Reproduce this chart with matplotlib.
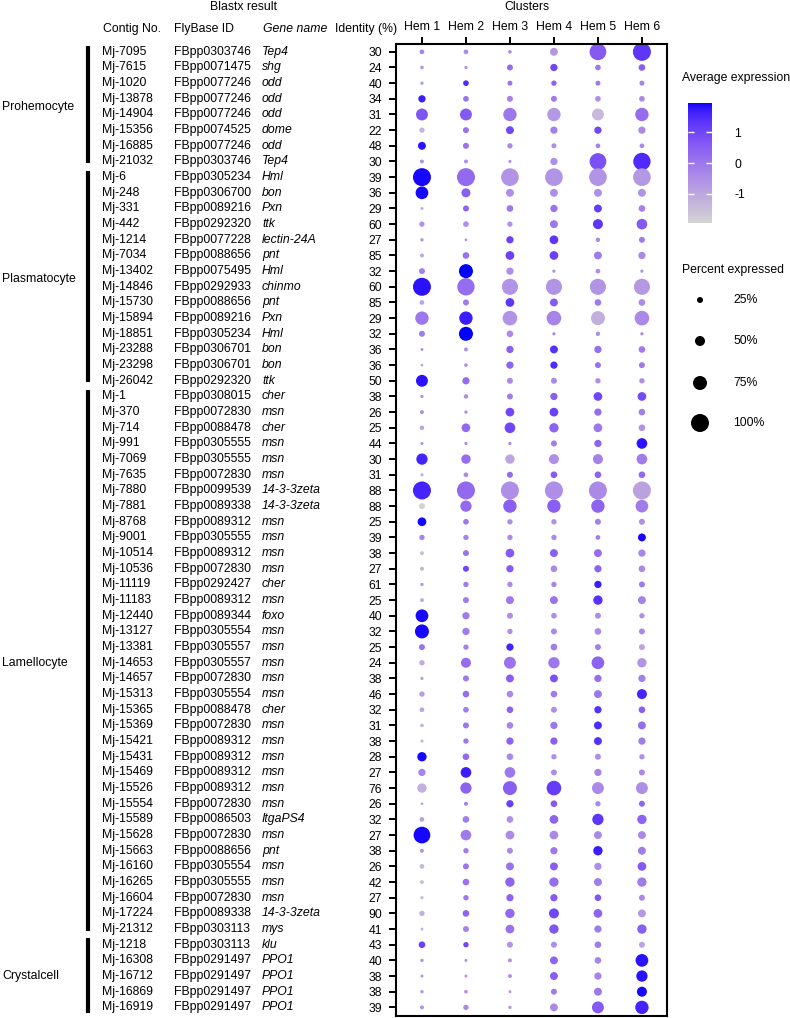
import numpy as np
import matplotlib
matplotlib.use("Agg")
import matplotlib.pyplot as plt
from matplotlib.colors import ListedColormap, Normalize
from matplotlib.cm import ScalarMappable
from matplotlib.transforms import blended_transform_factory

plt.rcParams['font.family'] = ['Liberation Sans', 'DejaVu Sans']
plt.rcParams['axes.unicode_minus'] = False

contigs = ["Mj-7095", "Mj-7615", "Mj-1020", "Mj-13878", "Mj-14904", "Mj-15356", "Mj-16885", "Mj-21032",
           "Mj-6", "Mj-248", "Mj-331", "Mj-442", "Mj-1214", "Mj-7034", "Mj-13402", "Mj-14846",
           "Mj-15730", "Mj-15894", "Mj-18851", "Mj-23288", "Mj-23298", "Mj-26042",
           "Mj-1", "Mj-370", "Mj-714", "Mj-991", "Mj-7069", "Mj-7635", "Mj-7880", "Mj-7881",
           "Mj-8768", "Mj-9001", "Mj-10514", "Mj-10536", "Mj-11119", "Mj-11183", "Mj-12440",
           "Mj-13127", "Mj-13381", "Mj-14653", "Mj-14657", "Mj-15313", "Mj-15365", "Mj-15369",
           "Mj-15421", "Mj-15431", "Mj-15469", "Mj-15526", "Mj-15554", "Mj-15589", "Mj-15628",
           "Mj-15663", "Mj-16160", "Mj-16265", "Mj-16604", "Mj-17224", "Mj-21312",
           "Mj-1218", "Mj-16308", "Mj-16712", "Mj-16869", "Mj-16919"]
flybase = ["FBpp0303746", "FBpp0071475", "FBpp0077246", "FBpp0077246", "FBpp0077246", "FBpp0074525",
           "FBpp0077246", "FBpp0303746",
           "FBpp0305234", "FBpp0306700", "FBpp0089216", "FBpp0292320", "FBpp0077228", "FBpp0088656",
           "FBpp0075495", "FBpp0292933", "FBpp0088656", "FBpp0089216", "FBpp0305234", "FBpp0306701",
           "FBpp0306701", "FBpp0292320",
           "FBpp0308015", "FBpp0072830", "FBpp0088478", "FBpp0305555", "FBpp0305555", "FBpp0072830",
           "FBpp0099539", "FBpp0089338", "FBpp0089312", "FBpp0305555", "FBpp0089312", "FBpp0072830",
           "FBpp0292427", "FBpp0089312", "FBpp0089344", "FBpp0305554", "FBpp0305557", "FBpp0305557",
           "FBpp0072830", "FBpp0305554", "FBpp0088478", "FBpp0072830", "FBpp0089312", "FBpp0089312",
           "FBpp0089312", "FBpp0089312", "FBpp0072830", "FBpp0086503", "FBpp0072830", "FBpp0088656",
           "FBpp0305554", "FBpp0305555", "FBpp0072830", "FBpp0089338", "FBpp0303113",
           "FBpp0303113", "FBpp0291497", "FBpp0291497", "FBpp0291497", "FBpp0291497"]
genes = ["Tep4", "shg", "odd", "odd", "odd", "dome", "odd", "Tep4",
         "Hml", "bon", "Pxn", "ttk", "lectin-24A", "pnt", "Hml", "chinmo", "pnt", "Pxn", "Hml",
         "bon", "bon", "ttk",
         "cher", "msn", "cher", "msn", "msn", "msn", "14-3-3zeta", "14-3-3zeta", "msn", "msn",
         "msn", "msn", "cher", "msn", "foxo", "msn", "msn", "msn", "msn", "msn", "cher", "msn",
         "msn", "msn", "msn", "msn", "msn", "ItgaPS4", "msn", "pnt", "msn", "msn", "msn",
         "14-3-3zeta", "mys",
         "klu", "PPO1", "PPO1", "PPO1", "PPO1"]
identity = [30, 24, 40, 34, 31, 22, 48, 30,
            39, 36, 29, 60, 27, 85, 32, 60, 85, 29, 32, 36, 36, 50,
            38, 26, 25, 44, 30, 31, 88, 88, 25, 39, 38, 27, 61, 25, 40, 32, 25, 24, 38, 46,
            32, 31, 38, 28, 27, 76, 26, 32, 27, 38, 26, 42, 27, 90, 41,
            43, 40, 38, 38, 39]

groups = ["Prohemocyte", "Plasmatocyte", "Lamellocyte", "Crystalcell"]
group_rows = [(0, 7), (8, 21), (22, 56), (57, 61)]

clusters = ["Hem 1", "Hem 2", "Hem 3", "Hem 4", "Hem 5", "Hem 6"]

# percent expressed per contig (Hem 1..6)
pct = [[17, 17, 10, 37, 92, 100], [10, 8, 25, 33, 23, 29], [8, 23, 19, 21, 19, 19],
       [33, 23, 25, 25, 23, 23], [62, 62, 71, 71, 62, 71], [21, 25, 37, 33, 33, 33],
       [37, 25, 21, 19, 17, 17], [12, 12, 8, 33, 92, 96],
       [100, 100, 98, 98, 98, 98], [67, 44, 37, 37, 37, 37], [6, 25, 29, 33, 37, 29],
       [21, 23, 21, 37, 50, 54], [8, 4, 33, 42, 15, 25], [12, 29, 42, 42, 37, 33],
       [25, 75, 33, 8, 17, 8], [100, 96, 88, 88, 88, 88], [17, 25, 42, 37, 29, 29],
       [71, 71, 79, 79, 75, 79], [25, 75, 29, 8, 15, 8], [6, 12, 33, 37, 33, 29],
       [4, 10, 33, 33, 25, 25], [62, 33, 25, 25, 21, 21],
       [8, 15, 25, 33, 42, 42], [12, 8, 42, 42, 33, 29], [15, 42, 54, 46, 42, 29],
       [6, 8, 8, 25, 33, 54], [58, 46, 46, 50, 50, 54], [8, 17, 25, 29, 29, 29],
       [100, 100, 100, 100, 100, 100], [25, 58, 71, 71, 71, 67], [42, 23, 21, 21, 25, 25],
       [21, 21, 21, 21, 17, 37], [12, 25, 42, 37, 37, 33], [12, 25, 33, 29, 33, 29],
       [8, 21, 21, 21, 33, 25], [12, 25, 37, 37, 46, 37], [67, 33, 25, 23, 25, 21],
       [75, 33, 21, 25, 29, 25], [25, 21, 33, 29, 25, 25], [21, 50, 62, 58, 67, 46],
       [8, 25, 37, 37, 33, 33], [21, 29, 29, 29, 37, 50], [17, 23, 29, 25, 33, 29],
       [10, 25, 29, 33, 37, 37], [8, 21, 33, 33, 37, 33], [46, 29, 29, 21, 25, 21],
       [33, 54, 54, 25, 33, 25], [46, 58, 75, 79, 62, 62], [4, 12, 33, 29, 21, 25],
       [17, 29, 29, 42, 58, 46], [92, 54, 42, 42, 37, 37], [12, 21, 25, 33, 46, 37],
       [17, 25, 37, 37, 33, 42], [12, 29, 46, 46, 37, 46], [8, 21, 33, 33, 29, 25],
       [21, 29, 46, 50, 42, 37], [6, 25, 42, 46, 33, 46],
       [29, 21, 25, 25, 29, 25], [8, 6, 12, 37, 29, 67], [6, 6, 12, 37, 33, 58],
       [8, 10, 6, 25, 37, 50], [12, 21, 8, 37, 62, 71]]

# scaled average expression per contig (Hem 1..6)
avg = [[-0.3, -0.4, -0.5, -0.7, 0.6, 1.3], [-0.6, -0.6, 0.2, 1.0, -0.1, 0.5],
       [-0.7, 1.5, 0.0, 0.4, -0.1, -0.3], [1.7, 0.1, -0.2, -0.1, -0.5, -0.4],
       [0.7, 0.6, 0.0, -0.7, -1.4, 0.2], [-1.3, 0.1, 1.0, -0.2, 1.0, -0.4],
       [1.8, 0.1, -0.4, -0.5, -0.2, -0.4], [-0.5, -0.5, -0.6, -0.5, 0.8, 1.5],
       [1.9, 0.3, -0.6, -0.6, -0.6, -0.7], [1.9, 0.5, -0.5, -0.5, -0.5, -0.6],
       [-1.0, 0.4, 0.0, 0.1, 1.2, -0.2], [-0.6, -0.5, -0.6, 0.0, 1.3, 0.6],
       [-0.5, -0.5, 1.1, 1.3, -0.4, -0.1], [-1.0, 0.1, 1.1, 1.1, -0.1, -0.4],
       [-0.2, 2.0, -0.5, -0.6, -0.5, -0.6], [1.8, 0.2, -0.6, -0.6, -0.6, -0.7],
       [-1.0, -0.1, 1.3, 0.6, -0.1, -0.4], [0.0, 1.7, -0.6, -0.3, -1.2, -0.4],
       [-0.1, 2.0, -0.4, -0.5, -0.5, -0.4], [-0.6, -0.5, 0.5, 1.4, 0.2, -0.1],
       [-0.9, -0.5, 0.4, 1.5, 0.1, -0.1], [1.8, 0.2, -0.4, -0.4, -0.5, -0.5],
       [-0.6, -0.5, -0.1, 0.5, 1.0, 0.9], [-0.5, -0.5, 1.0, 1.1, 0.2, -0.2],
       [-0.9, 0.3, 1.0, 0.4, 0.0, -0.6], [-0.5, -0.5, -0.5, -0.1, 0.4, 1.8],
       [1.6, 0.2, -1.0, -0.5, -0.2, -0.1], [-1.3, -0.4, 0.3, 0.6, 0.4, 0.3],
       [1.6, 0.3, -0.5, -0.5, -0.4, -0.9], [-1.9, 0.3, 0.5, 0.5, 0.4, -0.1],
       [1.9, 0.0, -0.5, -0.5, -0.2, -0.5], [-0.3, -0.3, -0.4, -0.4, -0.1, 1.9],
       [-1.5, 0.1, 0.6, 0.5, 0.2, -0.3], [-1.2, 1.0, 0.6, -0.4, 0.4, -0.4],
       [-0.6, -0.1, -0.4, -0.3, 1.7, -0.1], [-1.1, -0.1, 0.0, 0.1, 1.4, -0.2],
       [1.9, -0.1, -0.5, -0.5, -0.5, -0.5], [1.9, -0.1, -0.5, -0.4, -0.4, -0.4],
       [0.1, -0.2, 1.6, -0.1, -0.2, -1.0], [-1.1, 0.2, 0.1, 0.0, 0.4, -0.6],
       [-0.9, -0.1, 0.5, 0.8, 0.2, -0.2], [-0.8, 0.2, -0.4, -0.1, 0.0, 1.6],
       [-1.0, -0.1, 0.4, -0.5, 1.4, 0.5], [-1.2, 0.0, -0.3, 0.0, 1.5, 0.2],
       [-1.4, 0.0, 0.4, 0.5, 1.4, -0.1], [1.9, 0.3, -0.4, -0.5, -0.5, -0.5],
       [-0.3, 1.7, 0.0, -0.5, -0.3, -0.4], [-1.2, 0.4, 0.5, 1.2, -0.4, -0.5],
       [-0.8, -0.1, 1.1, 0.6, -0.4, 0.4], [-1.0, -0.1, -0.5, 0.4, 1.3, 0.4],
       [1.9, -0.1, -0.4, -0.4, -0.4, -0.4], [-0.6, -0.1, -0.4, 0.0, 1.7, -0.1],
       [-1.4, 0.0, 0.1, 0.5, -0.5, 0.6], [-1.5, 0.1, 0.4, 0.2, -0.1, -0.1],
       [-1.4, 0.0, 0.4, 0.6, 0.7, -0.4], [-1.2, 0.4, 0.3, 1.0, 0.4, -0.7],
       [-1.3, -0.3, 0.1, 0.7, -0.1, 0.5],
       [1.1, 1.0, -0.6, -0.5, -0.1, -0.9], [-0.5, -0.5, -0.5, 0.4, -0.3, 1.8],
       [-0.5, -0.5, -0.5, 0.5, -0.3, 1.8], [-0.5, -0.5, -0.6, -0.1, 0.0, 1.9],
       [-0.5, -0.4, -0.6, -0.4, 0.6, 1.6]]

cbar_ticks = [-1, 0, 1]
legend_pct = [25, 50, 75, 100]


# lightgrey -> blue gradient mixed in Lab space (like ggplot)
def to_lab(c):
    c = np.asarray(c, float)
    lin = np.where(c <= 0.04045, c / 12.92, ((c + 0.055) / 1.055) ** 2.4)
    M = np.array([[0.4124, 0.3576, 0.1805], [0.2126, 0.7152, 0.0722], [0.0193, 0.1192, 0.9505]])
    xyz = M @ lin / np.array([0.95047, 1.0, 1.08883])
    f = np.where(xyz > 0.008856, np.cbrt(xyz), 7.787 * xyz + 16 / 116)
    return np.array([116 * f[1] - 16, 500 * (f[0] - f[1]), 200 * (f[1] - f[2])])


def from_lab(lab):
    L, a, b = lab
    fy = (L + 16) / 116
    f = np.array([fy + a / 500, fy, fy - b / 200])
    xyz = np.where(f ** 3 > 0.008856, f ** 3, (f - 16 / 116) / 7.787) * np.array([0.95047, 1.0, 1.08883])
    Mi = np.array([[3.2406, -1.5372, -0.4986], [-0.9689, 1.8758, 0.0415], [0.0557, -0.2040, 1.0570]])
    lin = np.clip(Mi @ xyz, 0, 1)
    rgb = np.where(lin <= 0.0031308, 12.92 * lin, 1.055 * lin ** (1 / 2.4) - 0.055)
    return np.clip(rgb, 0, 1)


lo, hi = to_lab([211 / 255] * 3), to_lab([0, 0, 1])
cmap = ListedColormap([from_lab(lo + (hi - lo) * t) for t in np.linspace(0, 1, 256)])
norm = Normalize(-1.95, 1.95)

W, H = 790, 1018
fig = plt.figure(figsize=(W / 100, H / 100), dpi=100)


def rect(x0, y0, x1, y1):
    return [x0 / W, 1 - y1 / H, (x1 - x0) / W, (y1 - y0) / H]


lay = fig.add_axes([0, 0, 1, 1])
lay.set_xlim(0, W)
lay.set_ylim(H, 0)
lay.axis('off')
lay.set_facecolor('none')

ax = fig.add_axes(rect(396, 44, 667, 1016))
n = len(contigs)
rows = np.arange(n)
xx, yy = np.meshgrid(np.arange(1, 7), rows)
P = np.array(pct, float)
A = np.array(avg, float)
diam = (2 + 0.16 * P) * 0.72
ax.scatter(xx.ravel(), yy.ravel(), s=diam.ravel() ** 2, c=A.ravel(), cmap=cmap, norm=norm,
           linewidths=0)
ax.set_xlim(0.41, 6.57)
ax.set_ylim(61.55, -0.5)
for sp in ax.spines.values():
    sp.set_linewidth(1.5)
ax.set_yticks(rows)
ax.set_yticklabels([str(v) for v in identity], fontsize=8.8)
ax.set_xticks(np.arange(1, 7))
ax.set_xticklabels(clusters, fontsize=8.8)
ax.xaxis.tick_top()
ax.tick_params(axis='y', length=5, width=1.4, pad=5)
ax.tick_params(axis='x', length=5, width=1.4, pad=3)

tr = blended_transform_factory(lay.transData, ax.transData)
fs = 8.8
for i in rows:
    lay.text(102, i, contigs[i], transform=tr, fontsize=fs, va='center')
    lay.text(174, i, flybase[i], transform=tr, fontsize=fs, va='center')
    lay.text(262, i, genes[i], transform=tr, fontsize=fs, va='center', style='italic')

for name, (a, b) in zip(groups, group_rows):
    end = b + 0.35 if b == n - 1 else b + 0.1
    lay.plot([88, 88], [a - 0.4, end], transform=tr, color='k', lw=3, solid_capstyle='butt',
             clip_on=False)
    lay.text(2, (a + b) / 2, name, transform=tr, fontsize=fs, va='center')

lay.text(243, 7, "Blastx result", ha='center', va='center', fontsize=fs)
lay.text(527, 7, "Clusters", ha='center', va='center', fontsize=fs)
lay.text(103, 29, "Contig No.", va='center', fontsize=fs)
lay.text(174, 29, "FlyBase ID", va='center', fontsize=fs)
lay.text(263, 29, "Gene name", va='center', fontsize=fs, style='italic')
lay.text(397, 29, "Identity (%)", ha='right', va='center', fontsize=fs)

# legends
lay.text(682, 78, "Average expression", va='center', fontsize=fs)
cax = fig.add_axes(rect(688, 103, 712, 223))
cb = fig.colorbar(ScalarMappable(norm=norm, cmap=cmap), cax=cax, ticks=cbar_ticks)
cb.outline.set_visible(False)
cax.tick_params(direction='in', color='white', length=4, width=1, left=True, right=True,
                labelsize=fs, pad=16)

lay.text(682, 270, "Percent expressed", va='center', fontsize=fs)
ly = [300, 341, 383, 423]
ld = (2 + 0.16 * np.array(legend_pct)) * 0.72
lay.scatter([700] * 4, ly, s=ld ** 2, color='k', linewidths=0)
for y, p in zip(ly, legend_pct):
    lay.text(733, y, f"{p}%", va='center', fontsize=fs)

fig.savefig("out.png", dpi=100)
